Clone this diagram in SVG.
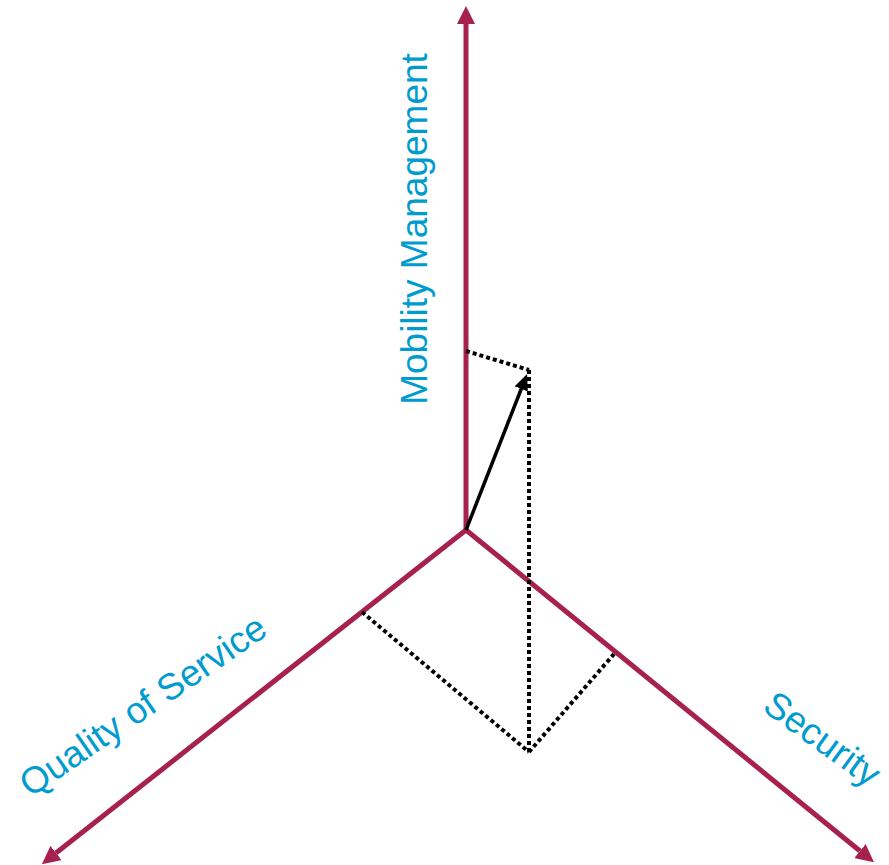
<svg xmlns="http://www.w3.org/2000/svg" width="889" height="865" viewBox="0 0 889 865">
<defs>
<style>
.axis{stroke:#A6214F;stroke-width:5;fill:none}
.dot{stroke:#000;stroke-width:4;stroke-dasharray:4 3;fill:none}
.lbl{font-family:"Liberation Sans",Arial,sans-serif;font-size:37px;fill:#009CCF}
</style>
<marker id="ah" viewBox="0 0 18 18" refX="0" refY="9" markerWidth="18" markerHeight="18" markerUnits="userSpaceOnUse" orient="auto">
<path d="M0,0 L18,9 L0,18 Z" fill="#A6214F"/>
</marker>
<marker id="bh" viewBox="0 0 16 14" refX="2" refY="7" markerWidth="16" markerHeight="14" markerUnits="userSpaceOnUse" orient="auto">
<path d="M0,0 L16,7 L0,14 Z" fill="#000"/>
</marker>
</defs>
<g id="connectors">
<line class="axis" x1="466" y1="530" x2="466" y2="24" marker-end="url(#ah)"/>
<line class="axis" x1="466" y1="530" x2="56" y2="853" marker-end="url(#ah)"/>
<line class="axis" x1="466" y1="530" x2="860" y2="851" marker-end="url(#ah)"/>
<line class="dot" x1="466" y1="351" x2="529" y2="370"/>
<line class="dot" x1="529" y1="370" x2="529" y2="752"/>
<line class="dot" x1="362" y1="612" x2="529" y2="752"/>
<line class="dot" x1="529" y1="752" x2="614" y2="654"/>
<line x1="466" y1="530" x2="522" y2="387" stroke="#000" stroke-width="3.5" marker-end="url(#bh)"/>
</g>
<g id="label-mobility">
<text class="lbl" transform="translate(427,229) rotate(-90)" text-anchor="middle">Mobility Management</text>
</g>
<g id="label-qos">
<text class="lbl" transform="translate(150,716) rotate(-34.5)" text-anchor="middle">Quality of Service</text>
</g>
<g id="label-security">
<text class="lbl" transform="translate(815,749) rotate(36)" text-anchor="middle">Security</text>
</g>
</svg>
